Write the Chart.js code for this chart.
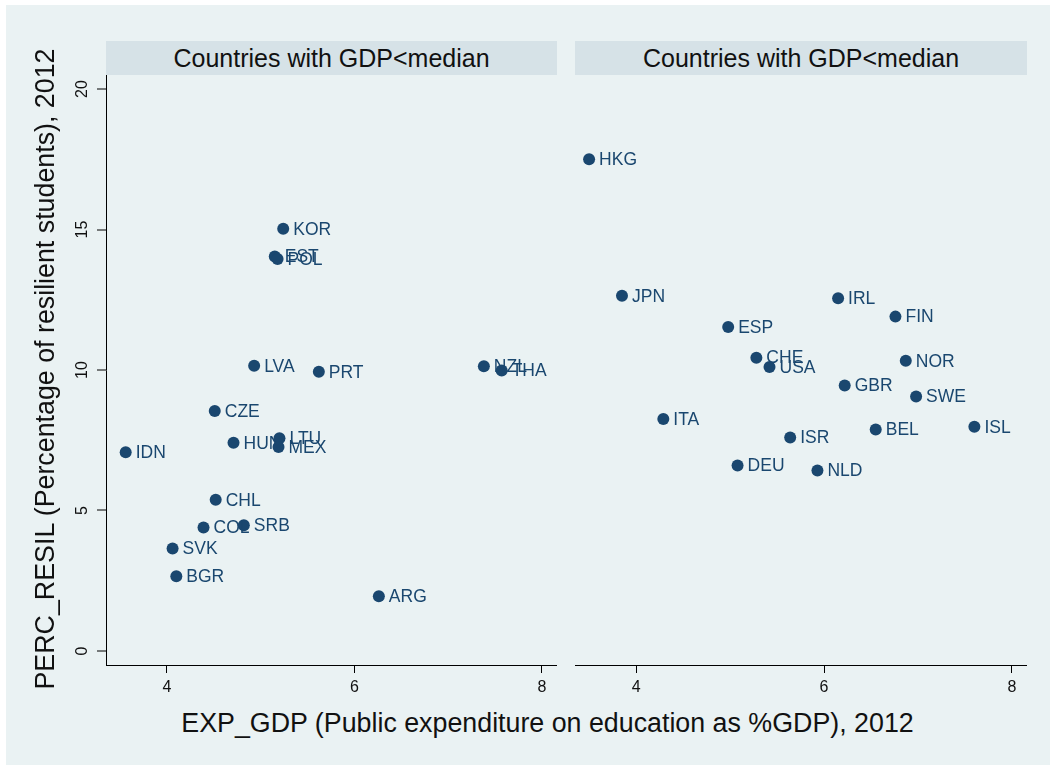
<!DOCTYPE html>
<html>
<head>
<meta charset="utf-8">
<title>PERC_RESIL vs EXP_GDP</title>
<script src="https://cdn.jsdelivr.net/npm/chart.js@4.4.1/dist/chart.umd.min.js"></script>
<style>
	body { margin: 0; width: 1055px; height: 770px; background: #fff; overflow: hidden; font-family: "Liberation Sans", Arial, sans-serif; }
	#graph-region { position: absolute; left: 6px; top: 5px; width: 1044px; height: 760px; background: #eaf2f3; }
	.panel-head { position: absolute; top: 41px; height: 34px; background: #d6e2e7; color: #111; font-size: 25px; line-height: 34px; text-align: center; }
	.plot { position: absolute; top: 75px; }
	#x-title { position: absolute; left: 0; width: 1095px; top: 707px; font-size: 26.8px; line-height: 32px; text-align: center; color: #111; }
	#y-title { position: absolute; left: 45px; top: 369px; width: 700px; margin-left: -350px; margin-top: -16px; font-size: 26.8px; line-height: 32px; text-align: center; color: #111; transform: rotate(-90deg); }
</style>
</head>
<body>
<div id="graph-region"></div>
<div class="panel-head" id="head-left" style="left:106px;width:451px;"></div>
<div class="panel-head" id="head-right" style="left:575px;width:452px;"></div>
<canvas class="plot" id="chart-left" width="501" height="630" style="left:56px;"></canvas>
<canvas class="plot" id="chart-right" width="452" height="630" style="left:575px;"></canvas>
<div id="x-title"></div>
<div id="y-title"></div>
<script>
// panel headings and axis titles
var panelTitles = ['Countries with GDP<median', 'Countries with GDP<median'];
var xTitle = 'EXP_GDP (Public expenditure on education as %GDP), 2012';
var yTitle = 'PERC_RESIL (Percentage of resilient students), 2012';

var xTicks = [4, 6, 8];
var yTicks = [0, 5, 10, 15, 20];

// first panel
var leftCodes = ['IDN', 'KOR', 'EST', 'POL', 'LVA', 'PRT', 'NZL', 'THA', 'CZE', 'HUN', 'LTU', 'MEX', 'CHL', 'COL', 'SRB', 'SVK', 'BGR', 'ARG'];
var leftExp   = [3.56, 5.24, 5.15, 5.18, 4.93, 5.62, 7.38, 7.57, 4.51, 4.71, 5.20, 5.19, 4.52, 4.39, 4.82, 4.06, 4.10, 6.26];
var leftResil = [7.07, 15.03, 14.04, 13.95, 10.15, 9.94, 10.13, 9.98, 8.54, 7.41, 7.57, 7.26, 5.38, 4.39, 4.47, 3.65, 2.66, 1.95];

// second panel
var rightCodes = ['HKG', 'JPN', 'ESP', 'IRL', 'FIN', 'CHE', 'USA', 'NOR', 'GBR', 'SWE', 'ITA', 'ISR', 'BEL', 'ISL', 'DEU', 'NLD'];
var rightExp   = [3.50, 3.85, 4.98, 6.15, 6.76, 5.28, 5.42, 6.87, 6.22, 6.98, 4.29, 5.64, 6.55, 7.60, 5.08, 5.93];
var rightResil = [17.50, 12.64, 11.53, 12.55, 11.90, 10.44, 10.11, 10.33, 9.45, 9.06, 8.26, 7.60, 7.88, 7.98, 6.60, 6.42];

var navy = '#1a476f';
var gridColor = '#eaf2f3';
var fontFamily = '"Liberation Sans", Arial, sans-serif';

// writes the country code to the right of each marker
var markerLabels = {
	id: 'markerLabels',
	afterDatasetsDraw: function(chart) {
		var ctx = chart.ctx;
		var codes = chart.config.data.datasets[0].codes;
		var meta = chart.getDatasetMeta(0);
		ctx.save();
		ctx.font = '17.5px ' + fontFamily;
		ctx.fillStyle = navy;
		ctx.textAlign = 'left';
		ctx.textBaseline = 'middle';
		meta.data.forEach(function(el, i) {
			ctx.fillText(codes[i], el.x + 10, el.y + 1);
		});
		ctx.restore();
	}
};

function makePoints(xs, ys) {
	var pts = [];
	for (var i = 0; i < xs.length; i++) {
		pts.push({ x: xs[i], y: ys[i] });
	}
	return pts;
}

function makeConfig(codes, xs, ys, showY) {
	return {
		type: 'scatter',
		data: {
			datasets: [
				{
					data: makePoints(xs, ys),
					codes: codes,
					backgroundColor: navy,
					borderWidth: 0,
					pointRadius: 6,
					pointHoverRadius: 6
				}
			]
		},
		options: {
			responsive: false,
			animation: false,
			events: [],
			layout: { padding: 0, autoPadding: false },
			plugins: {
				legend: { display: false },
				title: { display: false },
				tooltip: { enabled: false }
			},
			scales: {
				x: {
					type: 'linear',
					min: 3.35,
					max: 8.16,
					afterBuildTicks: function(scale) {
						scale.ticks = xTicks.map(function(v) { return { value: v }; });
					},
					afterFit: function(scale) {
						scale.height = 40;
						scale.paddingLeft = 0;
						scale.paddingRight = 0;
					},
					grid: {
						drawOnChartArea: false,
						drawTicks: true,
						tickLength: 8,
						tickColor: '#000',
						tickWidth: 1
					},
					border: { display: true, color: '#000', width: 1 },
					ticks: {
						padding: 5,
						color: '#111',
						font: { family: fontFamily, size: 16 },
						maxRotation: 0,
						autoSkip: false
					}
				},
				y: {
					type: 'linear',
					min: -0.5,
					max: 20.5,
					afterBuildTicks: function(scale) {
						scale.ticks = yTicks.map(function(v) { return { value: v }; });
					},
					afterFit: function(scale) {
						scale.width = showY ? 50 : 0;
						scale.paddingTop = 0;
						scale.paddingBottom = 0;
					},
					grid: {
						color: gridColor,
						lineWidth: 2,
						drawTicks: showY,
						tickLength: 9,
						tickColor: '#000',
						tickWidth: 1
					},
					border: { display: showY, color: '#000', width: 1 },
					ticks: {
						display: showY,
						minRotation: 90,
						maxRotation: 90,
						crossAlign: 'center',
						padding: 6,
						color: '#111',
						font: { family: fontFamily, size: 16 },
						autoSkip: false
					}
				}
			}
		},
		plugins: [markerLabels]
	};
}

var chartLeft = null;
var chartRight = null;

document.getElementById('head-left').textContent = panelTitles[0];
document.getElementById('head-right').textContent = panelTitles[1];
document.getElementById('x-title').textContent = xTitle;
document.getElementById('y-title').textContent = yTitle;

chartLeft = new Chart(document.getElementById('chart-left').getContext('2d'), makeConfig(leftCodes, leftExp, leftResil, true));
chartRight = new Chart(document.getElementById('chart-right').getContext('2d'), makeConfig(rightCodes, rightExp, rightResil, false));
</script>
</body>
</html>
